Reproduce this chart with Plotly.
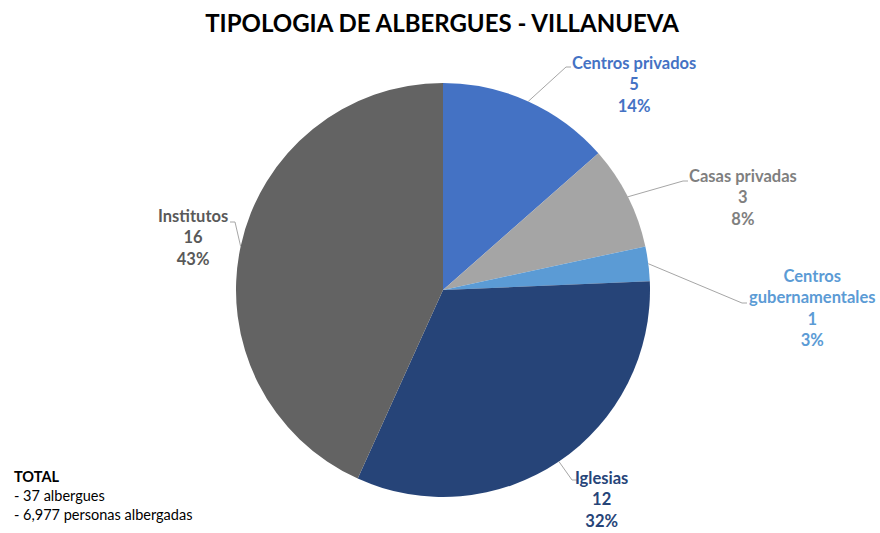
import math
import plotly.graph_objects as go

# ---- data ----
categories = ["Centros privados", "Casas privadas", "Centros gubernamentales", "Iglesias", "Institutos"]
label_text = ["Centros privados", "Casas privadas", "Centros<br>gubernamentales", "Iglesias", "Institutos"]
values = [5, 3, 1, 12, 16]
title_text = "TIPOLOGIA DE ALBERGUES - VILLANUEVA"
total_lines = ["<b>TOTAL</b>", "- 37 albergues", "- 6,977 personas albergadas"]

# ---- styles ----
slice_colors = ["#4472C4", "#A5A5A5", "#5B9BD5", "#264478", "#636363"]
text_colors = ["#4472C4", "#7F7F7F", "#5B9BD5", "#264478", "#595959"]
W, H = 880, 533          # canvas (px)
CX, CY, R = 443, 290, 207
FONT = "Lato, 'Open Sans', sans-serif"

# label centers (px) and leader-line elbow points (px) with side direction
label_pos = [(634, 84), (743, 197), (812, 308), (601, 499), (193, 237)]
elbow_pos = [(566, 67, 1), (683, 181, 1), (742, 303, 1), (572, 480, 1), (235, 222, -1)]


def px(x):
    return x / W


def py(y):
    return 1 - y / H


fig = go.Figure(go.Pie(
    labels=categories,
    values=values,
    sort=False,
    direction="clockwise",
    rotation=0,
    marker=dict(colors=slice_colors, line=dict(width=0)),
    textinfo="none",
    hoverinfo="label+value+percent",
    domain=dict(x=[px(CX - R), px(CX + R)], y=[py(CY + R), py(CY - R)]),
    showlegend=False,
))

total = sum(values)
cum = 0
annotations = []
shapes = []
for i, v in enumerate(values):
    mid = (cum + v / 2) / total * 2 * math.pi
    cum += v
    sx = CX + R * math.sin(mid)
    sy = CY - R * math.cos(mid)
    ex, ey, side = elbow_pos[i]
    pct = round(v / total * 100)
    shapes.append(dict(type="line", xref="paper", yref="paper",
                       x0=px(sx), y0=py(sy), x1=px(ex), y1=py(ey),
                       line=dict(color="#A6A6A6", width=1)))
    shapes.append(dict(type="line", xref="paper", yref="paper",
                       x0=px(ex), y0=py(ey), x1=px(ex + 5 * side), y1=py(ey),
                       line=dict(color="#A6A6A6", width=1)))
    lx, ly = label_pos[i]
    annotations.append(dict(
        x=px(lx), y=py(ly), xref="paper", yref="paper",
        text=f"<b>{label_text[i]}<br>{v}<br>{pct}%</b>",
        showarrow=False, align="center", xanchor="center", yanchor="middle",
        borderpad=0,
        font=dict(family=FONT, size=16.5, color=text_colors[i]),
    ))

annotations.append(dict(
    x=px(12), y=py(495), xref="paper", yref="paper",
    text="<br>".join(total_lines), showarrow=False, align="left",
    xanchor="left", yanchor="middle",
    font=dict(family=FONT, size=14.5, color="#000000"),
))

fig.update_layout(
    width=W, height=H,
    margin=dict(l=0, r=0, t=0, b=0),
    paper_bgcolor="white",
    plot_bgcolor="white",
    title=dict(text=f"<b>{title_text}</b>", x=px(442), xanchor="center",
               y=py(24), yanchor="middle", yref="paper",
               font=dict(family=FONT, size=24, color="#000000")),
    annotations=annotations,
    shapes=shapes,
)

fig.write_html("out.html", config={"displayModeBar": False},
               post_script="document.body.style.margin='0px';")
